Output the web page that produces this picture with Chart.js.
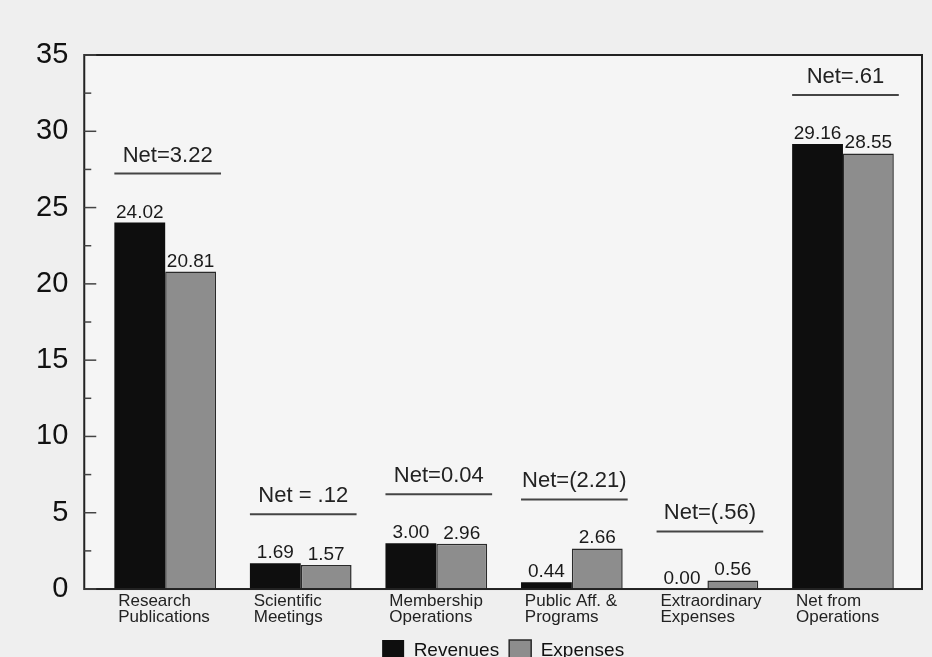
<!DOCTYPE html>
<html>
<head>
<meta charset="utf-8">
<script src="https://cdn.jsdelivr.net/npm/chart.js@4.4.0/dist/chart.umd.min.js"></script>
<style>
  html, body { margin: 0; padding: 0; background: #efefef; overflow: hidden; }
  #wrap { width: 932px; height: 657px; overflow: hidden; }
  canvas { display: block; }
</style>
</head>
<body>
<div id="wrap"><canvas id="myChart" width="932" height="672"></canvas></div>
<script>
// Catégories de l'axe des x (deux lignes chacune)
var categories = [
  ['Research', 'Publications'],
  ['Scientific', 'Meetings'],
  ['Membership', 'Operations'],
  ['Public Aff. &', 'Programs'],
  ['Extraordinary', 'Expenses'],
  ['Net from', 'Operations']
];

// Valeurs des deux séries
var revenues = [24.02, 1.69, 3.00, 0.44, 0.00, 29.16];
var expenses = [20.81, 1.57, 2.96, 2.66, 0.56, 28.55];

// Texte "Net=..." au-dessus de chaque groupe
var netLabels = ['Net=3.22', 'Net = .12', 'Net=0.04', 'Net=(2.21)', 'Net=(.56)', 'Net=.61'];

// Graduations de l'axe des y
var yTicks = [0, 5, 10, 15, 20, 25, 30, 35];

var FONT = "'Liberation Sans', Arial, sans-serif";

// Dessine le fond, le cadre, les petites graduations et les étiquettes
var cadrePlugin = {
    id: 'cadre',
    beforeDraw: function(chart) {
        var a = chart.chartArea;
        var ctx = chart.ctx;
        ctx.save();
        ctx.fillStyle = '#f5f5f5';
        ctx.fillRect(a.left, a.top, a.right - a.left, a.bottom - a.top);
        ctx.restore();
    },
    afterDatasetsDraw: function(chart) {
        var a = chart.chartArea;
        var ctx = chart.ctx;
        var yScale = chart.scales.y;
        ctx.save();

        // cadre
        ctx.strokeStyle = '#222';
        ctx.lineWidth = 2;
        ctx.strokeRect(a.left, a.top, a.right - a.left, a.bottom - a.top);

        // graduations vers l'intérieur (majeures tous les 5, mineures à 2.5)
        ctx.lineWidth = 1.5;
        ctx.strokeStyle = '#444';
        for (var i = 0; i < yTicks.length; i++) {
            var v = yTicks[i];
            var py = yScale.getPixelForValue(v);
            ctx.beginPath();
            ctx.moveTo(a.left, py);
            ctx.lineTo(a.left + 12, py);
            ctx.stroke();
            if (i < yTicks.length - 1) {
                var pm = yScale.getPixelForValue((v + yTicks[i + 1]) / 2);
                ctx.beginPath();
                ctx.moveTo(a.left, pm);
                ctx.lineTo(a.left + 7, pm);
                ctx.stroke();
            }
        }

        // valeurs au-dessus des barres
        var series = [revenues, expenses];
        ctx.fillStyle = '#1a1a1a';
        ctx.font = '19px ' + FONT;
        ctx.textAlign = 'center';
        ctx.textBaseline = 'alphabetic';
        chart.data.datasets.forEach(function(ds, d) {
            var meta = chart.getDatasetMeta(d);
            meta.data.forEach(function(bar, j) {
                ctx.fillText(series[d][j].toFixed(2), bar.x, bar.y - 5);
            });
        });

        // ligne et texte "Net=..."
        var m0 = chart.getDatasetMeta(0);
        var m1 = chart.getDatasetMeta(1);
        ctx.font = '22px ' + FONT;
        ctx.fillStyle = '#222';
        ctx.strokeStyle = '#444';
        ctx.lineWidth = 2;
        for (var j = 0; j < categories.length; j++) {
            var b0 = m0.data[j], b1 = m1.data[j];
            var top = Math.min(b0.y, b1.y);
            var left = b0.x - b0.width / 2;
            var right = b1.x + b1.width / 2 + 5;
            var ly = top - 49;
            ctx.beginPath();
            ctx.moveTo(left, ly);
            ctx.lineTo(right, ly);
            ctx.stroke();
            ctx.fillText(netLabels[j], (left + right) / 2, ly - 12);
        }
        ctx.restore();
    }
};

var ctx = document.getElementById('myChart').getContext('2d');
var myChart = new Chart(ctx, {
    type: 'bar',
    data: {
        datasets: [{
            label: 'Revenues',
            data: revenues.map(function(v, i) { return { x: i, y: v }; }),
            backgroundColor: '#0e0e0e',
            borderColor: '#0e0e0e',
            borderWidth: 0
        }, {
            label: 'Expenses',
            data: expenses.map(function(v, i) { return { x: i, y: v }; }),
            backgroundColor: '#8d8d8d',
            borderColor: '#2a2a2a',
            borderWidth: 1.5
        }]
    },
    options: {
        responsive: false,
        animation: false,
        layout: { padding: { left: 20, right: 10, top: 55, bottom: 0 } },
        datasets: {
            bar: { categoryPercentage: 0.75, barPercentage: 1.0 }
        },
        scales: {
            x: {
                type: 'linear',
                offset: false,
                min: -0.597,
                max: 5.583,
                grid: { display: false, drawTicks: false },
                border: { display: false },
                afterBuildTicks: function(scale) {
                    scale.ticks = categories.map(function(c, i) { return { value: i }; });
                },
                ticks: {
                    autoSkip: false,
                    maxRotation: 0,
                    align: 'start',
                    labelOffset: -47,
                    padding: 4,
                    color: '#222',
                    font: { family: FONT, size: 17, lineHeight: 0.97 },
                    callback: function(value) { return categories[value]; }
                }
            },
            y: {
                min: 0,
                max: 35,
                grid: { display: false, drawTicks: false },
                border: { display: false },
                afterBuildTicks: function(scale) {
                    scale.ticks = yTicks.map(function(v) { return { value: v }; });
                },
                ticks: {
                    padding: 16,
                    color: '#111',
                    font: { family: FONT, size: 29 }
                }
            }
        },
        plugins: {
            legend: {
                position: 'bottom',
                fullSize: false,
                labels: {
                    boxWidth: 22,
                    boxHeight: 22,
                    padding: 10,
                    color: '#111',
                    font: { family: FONT, size: 19 }
                }
            },
            tooltip: { enabled: false }
        }
    },
    plugins: [cadrePlugin]
});
</script>
</body>
</html>
